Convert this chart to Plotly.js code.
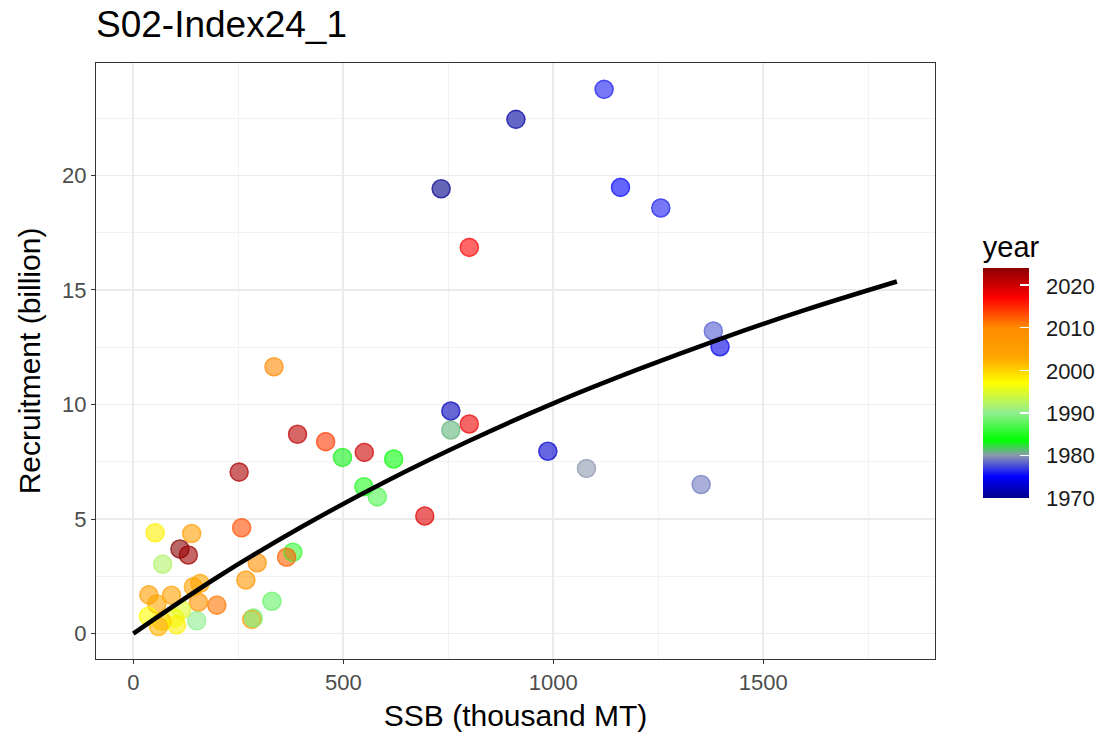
<!DOCTYPE html>
<html>
<head>
<meta charset="utf-8">
<script src="https://cdn.plot.ly/plotly-3.0.1.min.js"></script>
<style>
  html, body { margin: 0; padding: 0; background: #ffffff; }
  #chart { width: 1108px; height: 742px; }
</style>
</head>
<body>
<div id="chart"></div>
<script>
// Spawning stock biomass (thousand MT) for each year
const ssb = [1121, 911, 733, 1160, 1256, 800, 1381, 1397, 987, 1079, 1352, 335, 756, 756, 800,
             391, 458, 498, 550, 620, 549, 581, 252, 694, 258, 52, 139, 111, 131, 70,
             380, 365, 295, 268, 330, 282, 286, 199, 155, 151, 143, 159, 37, 91, 56,
             115, 36, 99, 68, 103, 60];
// Recruitment (billion)
const recruitment = [23.76, 22.45, 19.42, 19.48, 18.58, 16.86, 13.21, 12.52, 7.96, 7.21, 6.51, 11.65, 9.72, 8.89, 9.15,
                     8.70, 8.38, 7.69, 7.91, 7.62, 6.41, 5.97, 7.05, 5.13, 4.62, 4.40, 4.37, 3.69, 3.43, 3.03,
                     3.55, 3.33, 3.09, 2.34, 1.41, 0.62, 0.68, 1.24, 1.37, 0.56, 2.04, 2.19, 1.69, 1.67, 1.29,
                     1.04, 0.75, 0.68, 0.53, 0.38, 0.31];
// Year of each observation
const year = [1976, 1971, 1970, 1975, 1976, 2017, 1978, 1974, 1973, 1980, 1979, 2010, 1972, 1981, 2018,
              2021, 2014, 1983, 2020, 1984, 1985, 1987, 2022, 2019, 2013, 1998, 2005, 2024, 2023, 1992,
              1986, 2012, 2009, 2007, 1988, 2006, 1989, 2011, 2008, 1990, 2004, 2003, 2005, 2004, 2003,
              1995, 1997, 1996, 2001, 1998, 2002];

// Fitted stock-recruitment curve
const curveSsb = [0, 200, 400, 600, 800, 1000, 1200, 1400, 1600, 1818];
const curveRec = [0, 2.46, 4.65, 6.63, 8.42, 10.05, 11.52, 12.88, 14.13, 15.37];

const yearTicks = [1970, 1980, 1990, 2000, 2010, 2020];
const xTicks = [0, 500, 1000, 1500];
const yTicks = [0, 5, 10, 15, 20];

const yearScale = [
  [0.000, '#00008B'],
  [0.093, '#0000FF'],
  [0.185, '#8C98B0'],
  [0.250, '#00FF00'],
  [0.370, '#90EE90'],
  [0.500, '#FFFF00'],
  [0.611, '#FFA500'],
  [0.740, '#FF8C00'],
  [0.870, '#FF0000'],
  [1.000, '#8B0000']
];
const yMin = 1970, yMax = 2024;

const font = 'Liberation Sans, Arial, sans-serif';
const barBottom = 0.270;   // paper y of the colour bar's lower end

const points = {
  type: 'scatter', mode: 'markers',
  x: ssb, y: recruitment,
  showlegend: false, hoverinfo: 'skip',
  marker: {
    size: 19, opacity: 0.6,
    color: year, colorscale: yearScale, cmin: yMin, cmax: yMax,
    line: { width: 0 },
    showscale: true,
    colorbar: {
      title: { text: 'year', side: 'top', font: { family: font, size: 29, color: '#000000' } },
      tickvals: yearTicks,
      ticktext: yearTicks.map(String),
      ticks: 'outside', ticklen: 13, tickcolor: 'rgba(0,0,0,0)',
      tickfont: { family: font, size: 22, color: '#1a1a1a' },
      thickness: 46, thicknessmode: 'pixels',
      len: 266, lenmode: 'pixels',
      x: 1.057, xanchor: 'left', xref: 'paper',
      y: barBottom, yanchor: 'bottom', yref: 'paper',
      outlinewidth: 0, xpad: 0, ypad: 0
    }
  }
};

// thin rim around each point; its colour bar only adds the white tick marks
const rims = {
  type: 'scatter', mode: 'markers',
  x: ssb, y: recruitment,
  showlegend: false, hoverinfo: 'skip',
  marker: {
    symbol: 'circle-open', size: 18, opacity: 0.55,
    color: year, colorscale: yearScale, cmin: yMin, cmax: yMax,
    line: { width: 1.6 },
    showscale: true,
    colorbar: {
      tickvals: yearTicks,
      showticklabels: false,
      ticks: 'inside', ticklen: 9, tickcolor: '#ffffff', tickwidth: 1.3,
      thickness: 46, thicknessmode: 'pixels',
      len: 230, lenmode: 'pixels',
      x: 1.057, xanchor: 'left', xref: 'paper',
      y: barBottom, yanchor: 'bottom', yref: 'paper',
      outlinewidth: 0, xpad: 0, ypad: 0
    }
  }
};

const curve = {
  type: 'scatter', mode: 'lines',
  x: curveSsb, y: curveRec,
  line: { color: '#000000', width: 4.5, shape: 'spline', smoothing: 1 },
  showlegend: false, hoverinfo: 'skip'
};

const axisCommon = {
  showline: true, linecolor: '#333333', linewidth: 1, mirror: true,
  ticks: 'outside', ticklen: 4, tickcolor: '#333333', tickwidth: 1,
  showgrid: true, gridcolor: '#EBEBEB', gridwidth: 1.8,
  zeroline: false,
  tickfont: { family: font, size: 22, color: '#4D4D4D' }
};

const layout = {
  width: 1108, height: 742,
  paper_bgcolor: '#ffffff', plot_bgcolor: '#ffffff',
  margin: { l: 96, r: 173, t: 63, b: 83, pad: 0 },
  font: { family: font },
  title: {
    text: 'S02-Index24_1',
    font: { family: font, size: 37, color: '#000000' },
    x: 0, xref: 'paper', xanchor: 'left',
    y: 0.968, yref: 'container', yanchor: 'middle'
  },
  xaxis: Object.assign({}, axisCommon, {
    range: [-88.8, 1908.8],
    tickvals: xTicks,
    minor: { tickvals: [250, 750, 1250, 1750], showgrid: true, gridcolor: '#F2F2F2', gridwidth: 1, ticks: '' },
    title: { text: 'SSB (thousand MT)', standoff: 10, font: { family: font, size: 30, color: '#000000' } }
  }),
  yaxis: Object.assign({}, axisCommon, {
    range: [-1.11, 24.91],
    tickvals: yTicks,
    minor: { tickvals: [2.5, 7.5, 12.5, 17.5, 22.5], showgrid: true, gridcolor: '#F2F2F2', gridwidth: 1, ticks: '' },
    title: { text: 'Recruitment (billion)', standoff: 12, font: { family: font, size: 30, color: '#000000' } }
  })
};

Plotly.newPlot('chart', [points, rims, curve], layout, { displayModeBar: false, staticPlot: true });
</script>
</body>
</html>
